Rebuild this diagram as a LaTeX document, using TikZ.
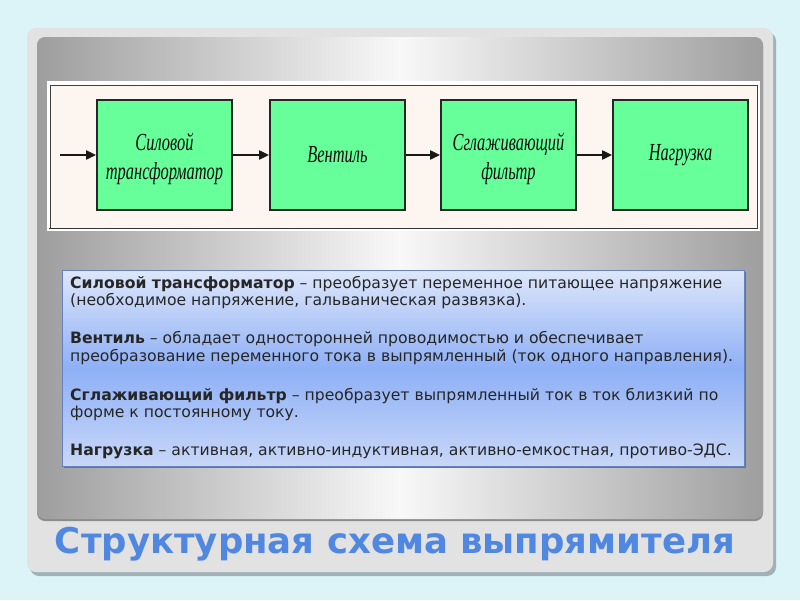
\documentclass[tikz,border=0pt]{standalone}
\usepackage{fontspec}
\setmainfont{DejaVu Sans}
\newfontfamily\boxfont{Liberation Serif}[FakeStretch=0.67]
\newfontfamily\titlefont{DejaVu Sans}
\usetikzlibrary{arrows.meta}
\definecolor{bgcyan}{RGB}{220,244,248}
\definecolor{panelgray}{RGB}{226,226,226}
\definecolor{panelshadow}{RGB}{160,178,184}
\definecolor{gradedge}{RGB}{158,158,158}
\definecolor{gradmid}{RGB}{248,248,248}
\definecolor{cream}{RGB}{253,245,239}
\definecolor{boxgreen}{RGB}{102,255,153}
\definecolor{tbtop}{RGB}{222,231,250}
\definecolor{tbmid}{RGB}{142,176,246}
\definecolor{tbbot}{RGB}{200,215,248}
\definecolor{tbborder}{RGB}{100,130,190}
\definecolor{titleblue}{RGB}{80,135,225}
\tikzset{
  gbox/.style={draw=black!85, line width=1.8pt, fill=boxgreen, minimum width=135pt, minimum height=110pt, inner sep=0pt},
  gtext/.style={font=\boxfont\itshape\fontsize{24.5}{29}\selectfont, text=black!95, align=center},
  flow/.style={-{Triangle[length=10pt,width=9pt]}, line width=2pt, black!90},
  para/.style={anchor=base west, align=left, inner sep=0pt, font=\fontsize{15.65}{17.5}\selectfont, text=black!85},
}
\begin{document}
\begin{tikzpicture}[x=1pt,y=-1pt]
\useasboundingbox (0,0) rectangle (800,600);
\fill[bgcyan] (0,0) rectangle (800,600);
% outer panel
\fill[panelshadow, rounded corners=9pt] (30,32) rectangle (776,576);
\fill[panelgray, rounded corners=9pt] (27,28) rectangle (773,572);
% inner gradient panel
\fill[black!45, rounded corners=8pt] (37,38) rectangle (763,521);
\shade[left color=gradedge, right color=gradedge, middle color=gradmid, rounded corners=8pt] (37,37) rectangle (763,519);
% diagram picture
\fill[white] (47,81) rectangle (760,231);
\fill[cream] (50,85) rectangle (757,228);
\draw[black!75, line width=1pt] (50,85) rectangle (757,228);
\draw[black!80, line width=1.5pt] (49,228.5) -- (758,228.5);
\node[gbox] (b1) at (164.5,155) {};
\node[gbox] (b2) at (337.5,155) {};
\node[gbox] (b3) at (508.5,155) {};
\node[gbox] (b4) at (680.5,155) {};
\node[gtext] (t1) at ([yshift=-3.5pt]b1.center) {Силовой\\трансформатор};
\node[gtext] (t2) at (b2.center) {Вентиль};
\node[gtext] (t3) at ([yshift=-3.5pt]b3.center) {Сглаживающий\\фильтр};
\node[gtext] (t4) at (b4.center) {Нагрузка};
\coordinate (in) at (60,155);
\draw[flow] (in) -- (b1.west);
\draw[flow] (b1.east) -- (b2.west);
\draw[flow] (b2.east) -- (b3.west);
\draw[flow] (b3.east) -- (b4.west);
% text box
\fill[black!55] (64,272) rectangle (746,468);
\shade[top color=tbtop, bottom color=tbbot, middle color=tbmid] (62,270) rectangle (744,466);
\draw[tbborder, line width=0.8pt] (62,270) rectangle (744,466);
\node[para] (p1) at (70,305.5) {\textbf{Силовой трансформатор} – преобразует переменное питающее напряжение\\(необходимое напряжение, гальваническая развязка).};
\node[para] (p2) at (70,361) {\textbf{Вентиль} – обладает односторонней проводимостью и обеспечивает\\преобразование переменного тока в выпрямленный (ток одного направления).};
\node[para] (p3) at (70,417.5) {\textbf{Сглаживающий фильтр} – преобразует выпрямленный ток в ток близкий по\\форме к постоянному току.};
\node[para] (p4) at (70,455) {\textbf{Нагрузка} – активная, активно-индуктивная, активно-емкостная, противо-ЭДС.};
% title
\node[anchor=base, inner sep=0pt, font=\titlefont\bfseries\fontsize{35.5}{40}\selectfont, text=titleblue] (title) at (395,553) {Структурная схема выпрямителя};
\end{tikzpicture}
\end{document}
